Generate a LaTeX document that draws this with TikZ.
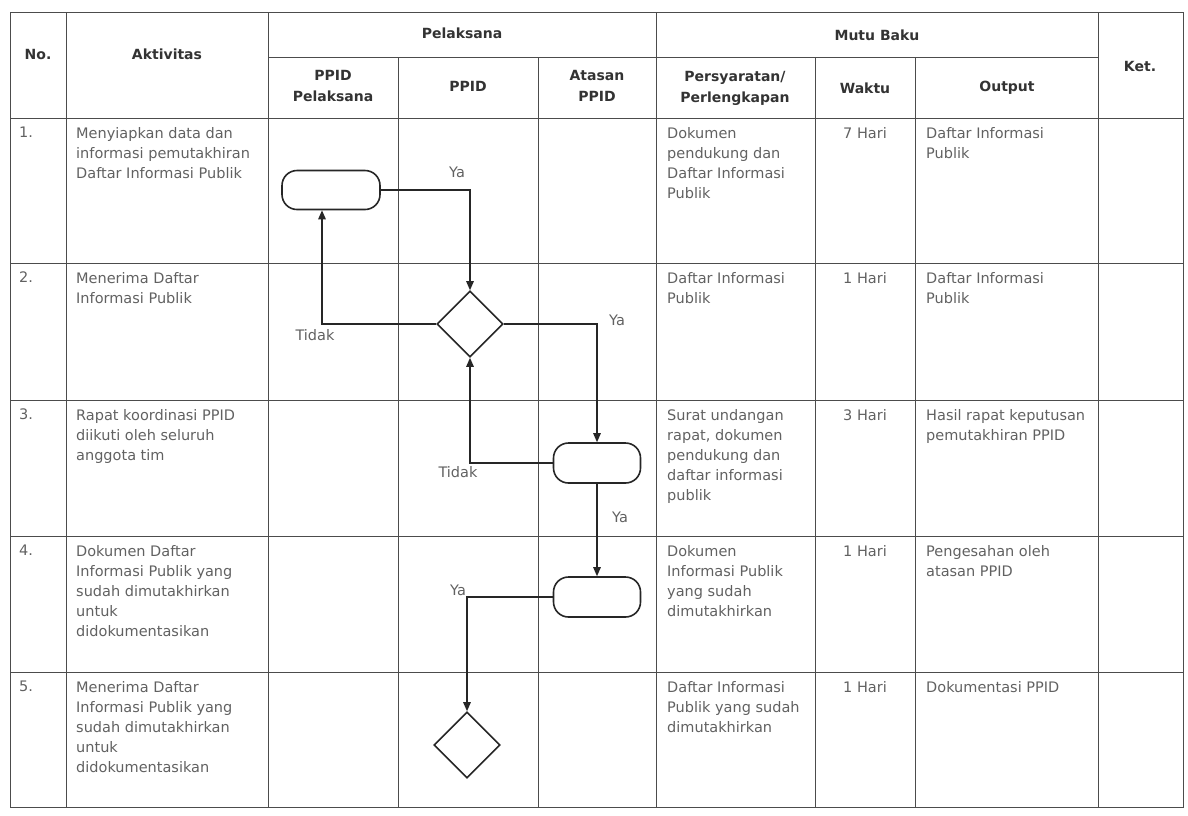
\documentclass[tikz,border=0pt]{standalone}
\usepackage{fontspec}
\setmainfont{DejaVu Sans}
\usetikzlibrary{shapes.geometric, arrows.meta, positioning, calc}
\newcommand\cellfont{\fontsize{14.5}{20}\selectfont}
\newcommand\headfont{\fontsize{14}{21}\selectfont\bfseries}
\tikzset{
    grid/.style={draw=black!70, line width=1pt},
    headtxt/.style={font=\headfont, text=black!80, align=center, inner sep=0pt},
    celltxt/.style={font=\cellfont, text=black!62, align=left, anchor=north west, inner sep=0pt},
    timetxt/.style={font=\cellfont, text=black!62, anchor=north, inner sep=0pt},
    activity/.style={rectangle, rounded corners=15pt, draw=black!85, line width=1.6pt,
                     minimum width=87pt, minimum height=40pt, inner sep=0pt},
    decision/.style={diamond, draw=black!85, line width=1.6pt, minimum width=66pt,
                     minimum height=66pt, inner sep=0pt},
    flow/.style={-{Triangle[length=9pt,width=7.5pt]}, line width=1.3pt, draw=black!85},
    lbl/.style={font=\cellfont, text=black!62, inner sep=0pt},
}

\begin{document}
\begin{tikzpicture}[x=1pt, y=-1pt]
    \useasboundingbox (0,0) rectangle (1188,815);

    % ── TABLE GRID ──
    \draw[grid] (10,12) rectangle (1183,807);
    \draw[grid] (268,57) -- (1098,57);
    \draw[grid] (10,118) -- (1183,118);
    \draw[grid] (10,263) -- (1183,263);
    \draw[grid] (10,400) -- (1183,400);
    \draw[grid] (10,536) -- (1183,536);
    \draw[grid] (10,672) -- (1183,672);
    \draw[grid] (66,12) -- (66,807);
    \draw[grid] (268,12) -- (268,807);
    \draw[grid] (398,57) -- (398,807);
    \draw[grid] (538,57) -- (538,807);
    \draw[grid] (656,12) -- (656,807);
    \draw[grid] (815,57) -- (815,807);
    \draw[grid] (915,57) -- (915,807);
    \draw[grid] (1098,12) -- (1098,807);

    % ── HEADER ──
    \node[headtxt] (hno) at (38,54) {No.};
    \node[headtxt] (hakt) at (167,54) {Aktivitas};
    \node[headtxt] (hpel) at (462,33) {Pelaksana};
    \node[headtxt] (hmutu) at (877,35) {Mutu Baku};
    \node[headtxt] (hket) at (1140,66) {Ket.};
    \node[headtxt] (hpp) at (333,86) {PPID\\Pelaksana};
    \node[headtxt] (hppid) at (468,86) {PPID};
    \node[headtxt] (hatasan) at (597,86) {Atasan\\PPID};
    \node[headtxt] (hreq) at (735,88) {Persyaratan/\\Perlengkapan};
    \node[headtxt] (htime) at (865,88) {Waktu};
    \node[headtxt] (hout) at (1007,88) {Output};

    % ── ROW 1 ──
    \node[celltxt] (no1) at (19,127) {1.};
    \node[celltxt] (act1) at (76,127) {Menyiapkan data dan\\informasi pemutakhiran\\Daftar Informasi Publik};
    \node[celltxt] (req1) at (667,127) {Dokumen\\pendukung dan\\Daftar Informasi\\Publik};
    \node[timetxt] (time1) at (865,127) {7 Hari};
    \node[celltxt] (out1) at (926,127) {Daftar Informasi\\Publik};

    % ── ROW 2 ──
    \node[celltxt] (no2) at (19,272) {2.};
    \node[celltxt] (act2) at (76,272) {Menerima Daftar\\Informasi Publik};
    \node[celltxt] (req2) at (667,272) {Daftar Informasi\\Publik};
    \node[timetxt] (time2) at (865,272) {1 Hari};
    \node[celltxt] (out2) at (926,272) {Daftar Informasi\\Publik};

    % ── ROW 3 ──
    \node[celltxt] (no3) at (19,409) {3.};
    \node[celltxt] (act3) at (76,409) {Rapat koordinasi PPID\\diikuti oleh seluruh\\anggota tim};
    \node[celltxt] (req3) at (667,409) {Surat undangan\\rapat, dokumen\\pendukung dan\\daftar informasi\\publik};
    \node[timetxt] (time3) at (865,409) {3 Hari};
    \node[celltxt] (out3) at (926,409) {Hasil rapat keputusan\\pemutakhiran PPID};

    % ── ROW 4 ──
    \node[celltxt] (no4) at (19,545) {4.};
    \node[celltxt] (act4) at (76,545) {Dokumen Daftar\\Informasi Publik yang\\sudah dimutakhirkan\\untuk\\didokumentasikan};
    \node[celltxt] (req4) at (667,545) {Dokumen\\Informasi Publik\\yang sudah\\dimutakhirkan};
    \node[timetxt] (time4) at (865,545) {1 Hari};
    \node[celltxt] (out4) at (926,545) {Pengesahan oleh\\atasan PPID};

    % ── ROW 5 ──
    \node[celltxt] (no5) at (19,681) {5.};
    \node[celltxt] (act5) at (76,681) {Menerima Daftar\\Informasi Publik yang\\sudah dimutakhirkan\\untuk\\didokumentasikan};
    \node[celltxt] (req5) at (667,681) {Daftar Informasi\\Publik yang sudah\\dimutakhirkan};
    \node[timetxt] (time5) at (865,681) {1 Hari};
    \node[celltxt] (out5) at (926,681) {Dokumentasi PPID};

    % ── FLOW ──
    \node[activity, minimum width=98pt, minimum height=39pt] (box1) at (331,190) {};
    \node[decision] (dec1) at (470,324) {};
    \node[activity] (box3) at (597,463) {};
    \node[activity] (box4) at (597,597) {};
    \node[decision] (dec5) at (467,745) {};
    \coordinate (b1in) at ($(box1.south)+(-9,0)$);

    \draw[flow] (box1.east) -| (dec1.north);
    \draw[flow] (dec1.west) -| (b1in);
    \draw[flow] (dec1.east) -| (box3.north);
    \draw[flow] (box3.west) -| (dec1.south);
    \draw[flow] (box3.south) -- (box4.north);
    \draw[flow] (box4.west) -| (dec5.north);

    \node[lbl] (ya1) at (457,172) {Ya};
    \node[lbl] (tidak1) at (315,335) {Tidak};
    \node[lbl] (ya2) at (617,320) {Ya};
    \node[lbl] (tidak2) at (458,472) {Tidak};
    \node[lbl] (ya3) at (620,517) {Ya};
    \node[lbl] (ya4) at (458,590) {Ya};

\end{tikzpicture}
\end{document}
